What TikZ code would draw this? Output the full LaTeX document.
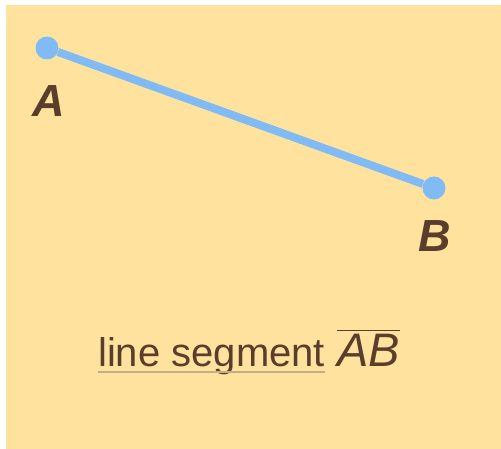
\documentclass[tikz,border=0pt]{standalone}
\usepackage{fontspec}
\setmainfont{Liberation Sans}
\usepackage{xcolor}
\usetikzlibrary{positioning}
\definecolor{sandyellow}{HTML}{FFE29D}
\definecolor{segblue}{HTML}{80BBF5}
\definecolor{inkbrown}{HTML}{5A3D2B}
\definecolor{linkline}{HTML}{C4AE84}
\tikzset{
  segment/.style={segblue, line width=8pt},
  endpoint/.style={circle, fill=segblue, inner sep=0pt, minimum size=23pt},
  pointlabel/.style={inkbrown, font=\fontsize{45}{52}\selectfont\bfseries\itshape, inner sep=0pt},
  caption/.style={inkbrown, font=\fontsize{40}{48}\selectfont, inner sep=0pt, anchor=base west},
  barline/.style={inkbrown, line width=1.8pt},
  underline/.style={linkline, line width=1.2pt}
}

\begin{document}
\begin{tikzpicture}[x=1pt,y=-1pt]
  \useasboundingbox (0,0) rectangle (501,449);
  \fill[sandyellow] (6,5) rectangle (501,449);
  % the segment and its end points
  \node[endpoint] (A) at (47,48) {};
  \node[endpoint] (B) at (434,188) {};
  \draw[segment] (A) -- (B);
  \node[pointlabel] (labA) at (49,101) {A};
  \node[pointlabel] (labB) at (435,236) {B};
  % caption
  \node[caption] (words) at (98,366) {line segment};
  \node[caption, font=\fontsize{47}{54}\selectfont] (ab) at ([xshift=12pt]words.base east) {\textit{AB}};
  \draw[underline] ([yshift=-6pt]words.base west) -- ([yshift=-6pt]words.base east);
  \draw[barline] ([yshift=3pt]ab.north west) -- ([yshift=3pt]ab.north east);
\end{tikzpicture}
\end{document}
